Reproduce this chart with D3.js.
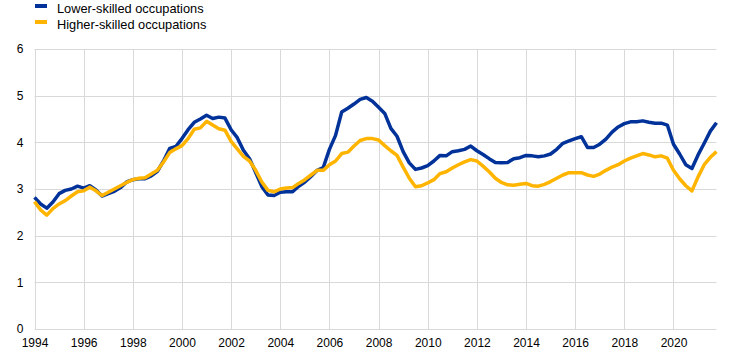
<!DOCTYPE html>
<html>
<head>
<meta charset="utf-8">
<script src="https://cdn.jsdelivr.net/npm/d3@7"></script>
<style>
html,body{margin:0;padding:0;background:#fff;}
svg{display:block;font-family:"Liberation Sans",Arial,sans-serif;}
</style>
</head>
<body>
<svg id="chart" width="744" height="356"></svg>
<script>
const startYear = 1994;
const seriesNames = ["Lower-skilled occupations", "Higher-skilled occupations"];
const seriesColors = ["#003299", "#FFB400"];
const xTickLabels = ["1994","1996","1998","2000","2002","2004","2006","2008","2010","2012","2014","2016","2018","2020"];
const yTickLabels = [0,1,2,3,4,5,6];

const lowerSkilled = [
  2.82, 2.68, 2.59, 2.72,
  2.90, 2.97, 3.00, 3.06,
  3.02, 3.07, 2.98, 2.85,
  2.90, 2.95, 3.03, 3.15,
  3.20, 3.22, 3.22, 3.28,
  3.38, 3.60, 3.87, 3.91,
  4.08, 4.27, 4.43, 4.50,
  4.58, 4.51, 4.54, 4.52,
  4.27, 4.10, 3.83, 3.65,
  3.35, 3.05, 2.87, 2.86,
  2.93, 2.94, 2.94, 3.06,
  3.15, 3.27, 3.40, 3.46,
  3.85, 4.15, 4.65, 4.73,
  4.82, 4.92, 4.96, 4.88,
  4.75, 4.62, 4.30, 4.13,
  3.80, 3.56, 3.42, 3.45,
  3.50, 3.60, 3.72, 3.71,
  3.80, 3.82, 3.85, 3.92,
  3.82, 3.74, 3.65, 3.57,
  3.56, 3.57, 3.65, 3.67,
  3.72, 3.71, 3.69, 3.71,
  3.75, 3.85, 3.98, 4.03,
  4.08, 4.12, 3.89, 3.89,
  3.96, 4.07, 4.22, 4.33,
  4.40, 4.44, 4.44, 4.46,
  4.43, 4.41, 4.41, 4.37,
  3.96, 3.75, 3.52, 3.44,
  3.73, 3.98, 4.24, 4.42
];

const higherSkilled = [
  2.73, 2.55, 2.44, 2.58,
  2.68, 2.75, 2.85, 2.94,
  2.96, 3.04, 2.96, 2.86,
  2.93, 3.00, 3.07, 3.14,
  3.20, 3.23, 3.24, 3.32,
  3.40, 3.58, 3.78, 3.86,
  3.93, 4.08, 4.28, 4.31,
  4.45, 4.37, 4.29, 4.26,
  4.02, 3.86, 3.70, 3.60,
  3.40, 3.15, 2.97, 2.94,
  3.00, 3.02, 3.03, 3.12,
  3.20, 3.30, 3.40, 3.40,
  3.52, 3.60, 3.76, 3.79,
  3.92, 4.04, 4.08, 4.08,
  4.05, 3.93, 3.82, 3.72,
  3.47, 3.23, 3.05, 3.07,
  3.13, 3.20, 3.33, 3.37,
  3.45, 3.52, 3.58, 3.63,
  3.60, 3.49, 3.37, 3.23,
  3.14, 3.09, 3.08, 3.10,
  3.12, 3.07, 3.06, 3.10,
  3.16, 3.23, 3.30, 3.35,
  3.35, 3.35, 3.30, 3.27,
  3.32, 3.40, 3.47, 3.52,
  3.60, 3.66, 3.71, 3.76,
  3.73, 3.69, 3.71, 3.66,
  3.40, 3.22, 3.07, 2.96,
  3.26, 3.52, 3.68, 3.80
];

const svg = d3.select("#chart");
const mLeft = 34.5, mRight = 716.5, mTop = 49, mBottom = 329;

const x = d3.scaleLinear().domain([1994, 2021.75]).range([mLeft, mRight]);
const y = d3.scaleLinear().domain([0, 6]).range([mBottom, mTop]);

const grid = svg.append("g");
yTickLabels.forEach(v => {
  grid.append("line").attr("x1", mLeft).attr("x2", mRight)
    .attr("y1", Math.round(y(v)) + 0.5).attr("y2", Math.round(y(v)) + 0.5)
    .attr("stroke", "#d9d9d9").attr("stroke-width", 1);
});
xTickLabels.forEach(t => {
  const xx = Math.round(x(+t)) + 0.5;
  grid.append("line").attr("x1", xx).attr("x2", xx)
    .attr("y1", mTop).attr("y2", mBottom)
    .attr("stroke", "#d9d9d9").attr("stroke-width", 1);
});

const yAxis = d3.axisLeft(y).tickValues(yTickLabels).tickSize(0).tickPadding(11).tickFormat(d3.format("d"));
const gy = svg.append("g").attr("transform", `translate(${mLeft},0)`).call(yAxis);
gy.select(".domain").remove();
gy.selectAll("text").attr("font-size", 12).attr("fill", "#000").attr("font-family", "Liberation Sans, Arial, sans-serif");

const xAxis = d3.axisBottom(x).tickValues(xTickLabels.map(Number)).tickSize(0).tickPadding(9).tickFormat(d3.format("d"));
const gx = svg.append("g").attr("transform", `translate(0,${mBottom})`).call(xAxis);
gx.select(".domain").remove();
gx.selectAll("text").attr("font-size", 12).attr("fill", "#000").attr("font-family", "Liberation Sans, Arial, sans-serif");

const line = d3.line().x((d, i) => x(startYear + i * 0.25)).y(d => y(d));

[lowerSkilled, higherSkilled].forEach((data, k) => {
  svg.append("path").datum(data)
    .attr("d", line)
    .attr("fill", "none")
    .attr("stroke", seriesColors[k])
    .attr("stroke-width", 3.5)
    .attr("stroke-linejoin", "round")
    .attr("stroke-linecap", "butt");
});

const legend = svg.append("g");
seriesNames.forEach((name, k) => {
  const g = legend.append("g").attr("transform", `translate(35,${4 + k * 16})`);
  g.append("rect").attr("x", 0).attr("y", 0).attr("width", 12).attr("height", 4).attr("fill", seriesColors[k]);
  g.append("text").attr("x", 22).attr("y", 9).attr("font-size", 12.8).attr("fill", "#000")
    .attr("font-family", "Liberation Sans, Arial, sans-serif").text(name);
});
</script>
</body>
</html>
